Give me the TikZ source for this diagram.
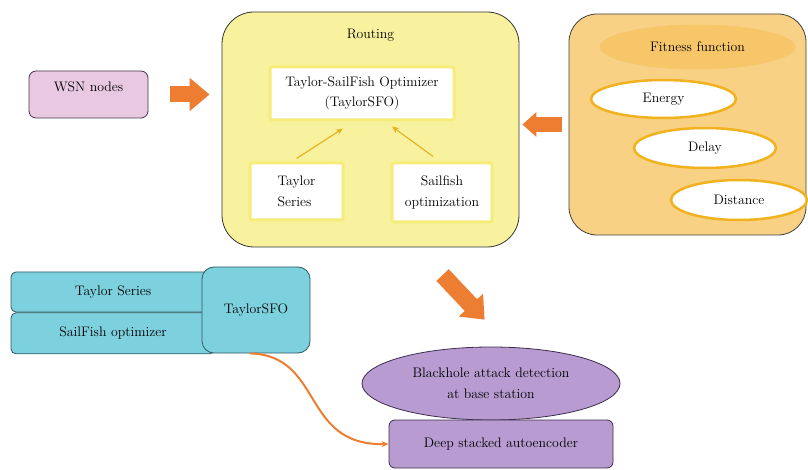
\documentclass[tikz,border=0pt]{standalone}
\usetikzlibrary{positioning,shapes.geometric,arrows.meta}
\definecolor{WsnPink}{HTML}{E9C8E2}
\definecolor{WsnBorder}{HTML}{4B3347}
\definecolor{RoutingYellow}{HTML}{F8F29E}
\definecolor{InnerYellow}{HTML}{F5EC7A}
\definecolor{ArrowGold}{HTML}{E6B422}
\definecolor{FitnessOrange}{HTML}{F9D184}
\definecolor{FitnessInner}{HTML}{F6C669}
\definecolor{GoalBorder}{HTML}{F0B21E}
\definecolor{BigOrange}{HTML}{ED7D31}
\definecolor{SfoCyan}{HTML}{7DD0DE}
\definecolor{SfoBorder}{HTML}{2E5A63}
\definecolor{DetPurple}{HTML}{B89BD0}
\definecolor{DetBorder}{HTML}{3E2E4E}
\tikzstyle{Texto}=[font=\rmfamily\fontsize{13.8}{20.5}\selectfont, align=center]
\tikzstyle{WsnBox}=[Texto, rectangle, rounded corners=7pt, draw=WsnBorder, fill=WsnPink, line width=0.8pt, minimum width=119pt, inner ysep=0pt, text height=21pt, text depth=26pt]
\tikzstyle{RoutingBox}=[Texto, rectangle, rounded corners=32pt, draw=black!80, fill=RoutingYellow, line width=0.8pt, minimum width=297pt, inner ysep=0pt, text height=27pt, text depth=208pt]
\tikzstyle{InnerBox}=[Texto, rectangle, draw=InnerYellow, fill=white, line width=3pt, rounded corners=2pt]
\tikzstyle{FitnessBox}=[rectangle, rounded corners=28pt, draw=black!75, fill=FitnessOrange, line width=0.8pt, minimum width=237pt, minimum height=221pt]
\tikzstyle{FitnessHead}=[Texto, ellipse, draw=FitnessInner!80!white, fill=FitnessInner, line width=1pt, inner sep=0pt, minimum width=197pt, minimum height=46pt]
\tikzstyle{GoalEllipse}=[Texto, ellipse, draw=GoalBorder, fill=white, line width=2.5pt, inner sep=0pt]
\tikzstyle{SfoBox}=[Texto, rectangle, rounded corners=5pt, draw=SfoBorder, fill=SfoCyan, line width=0.8pt, minimum width=204pt]
\tikzstyle{DetShape}=[Texto, draw=DetBorder, fill=DetPurple, line width=0.8pt, inner sep=0pt]
\tikzstyle{BigArrow}=[-{Triangle[length=20pt, width=32pt]}, line width=16pt, draw=BigOrange]
\tikzstyle{SmallBigArrow}=[-{Triangle[length=14pt, width=24pt]}, line width=15pt, draw=BigOrange]
\tikzstyle{ThinArrow}=[-{Stealth[length=7pt, width=6pt]}, line width=1.2pt, draw=ArrowGold]
\tikzstyle{CurveArrow}=[-{Stealth[length=7pt, width=6pt]}, line width=2pt, draw=BigOrange]

\begin{document}
\begin{tikzpicture}[x=1pt, y=-1pt]
	\useasboundingbox (0,0) rectangle (808,470);
	%Nodes
	\node[WsnBox]		(wsn)		at (88.5,94.5)		{WSN nodes};

	\node[RoutingBox]	(routing)	at (370.5,129.5)	{Routing};
	\node[InnerBox, minimum width=184pt, minimum height=53pt]	(tso)	at (362,93.5)	{Taylor-SailFish Optimizer\\(TaylorSFO)};
	\node[InnerBox, minimum width=93pt, minimum height=57pt, align=left]	(taylor)	at (296.5,191.5)	{Taylor\\Series};
	\node[InnerBox, minimum width=100pt, minimum height=59pt]	(sailfish)	at (442,192.5)	{Sailfish\\optimization};

	\node[FitnessBox]	(fitness)	at (687.5,124.5)	{};
	\node[FitnessHead]	(fitfun)	at (697.5,47)		{Fitness function};
	\node[GoalEllipse, minimum width=145pt, minimum height=38pt]	(energy)	at (663.5,99)	{Energy};
	\node[GoalEllipse, minimum width=142pt, minimum height=40pt]	(delay)		at (705,148)	{Delay};
	\node[GoalEllipse, minimum width=136pt, minimum height=40pt]	(distance)	at (739,200)	{Distance};

	\node[SfoBox, minimum height=40pt]	(taylor_series)	at (113,292)	{Taylor Series};
	\node[SfoBox, minimum height=41pt]	(sailfish_opt)	[below=0pt of taylor_series]	{SailFish optimizer};
	\node[SfoBox, rounded corners=12pt, minimum width=108pt, minimum height=86pt]	(tsfo)	at (256,310)	{TaylorSFO};

	\node[DetShape, ellipse, minimum width=258pt, minimum height=73pt]	(blackhole)	at (491,383.5)	{Blackhole attack detection\\at base station};
	\node[DetShape, rectangle, rounded corners=6pt, minimum width=224pt, minimum height=48pt]	(deep)	at (501,444)	{Deep stacked autoencoder};

	%Lines
	\draw[BigArrow, shorten <=22pt, shorten >=12pt] (wsn.east) -- (routing.west |- wsn.east);
	\draw[SmallBigArrow, shorten <=7pt, shorten >=3pt] (fitness.west) -- (routing.east |- fitness.west);
	\draw[BigArrow, line width=17pt, shorten <=38pt, shorten >=37pt] ([xshift=46pt]routing.south) -- ([xshift=19pt]blackhole.north);
	\draw[ThinArrow] ([yshift=3pt]taylor.north) -- ([xshift=-19pt, yshift=-7pt]tso.south);
	\draw[ThinArrow] ([xshift=-9pt, yshift=5pt]sailfish.north) -- ([xshift=30pt, yshift=-5pt]tso.south);
	\draw[CurveArrow] ([xshift=-6pt]tsfo.south) .. controls +(74,2) and +(-88,2) .. (deep.west);

\end{tikzpicture}
\end{document}
